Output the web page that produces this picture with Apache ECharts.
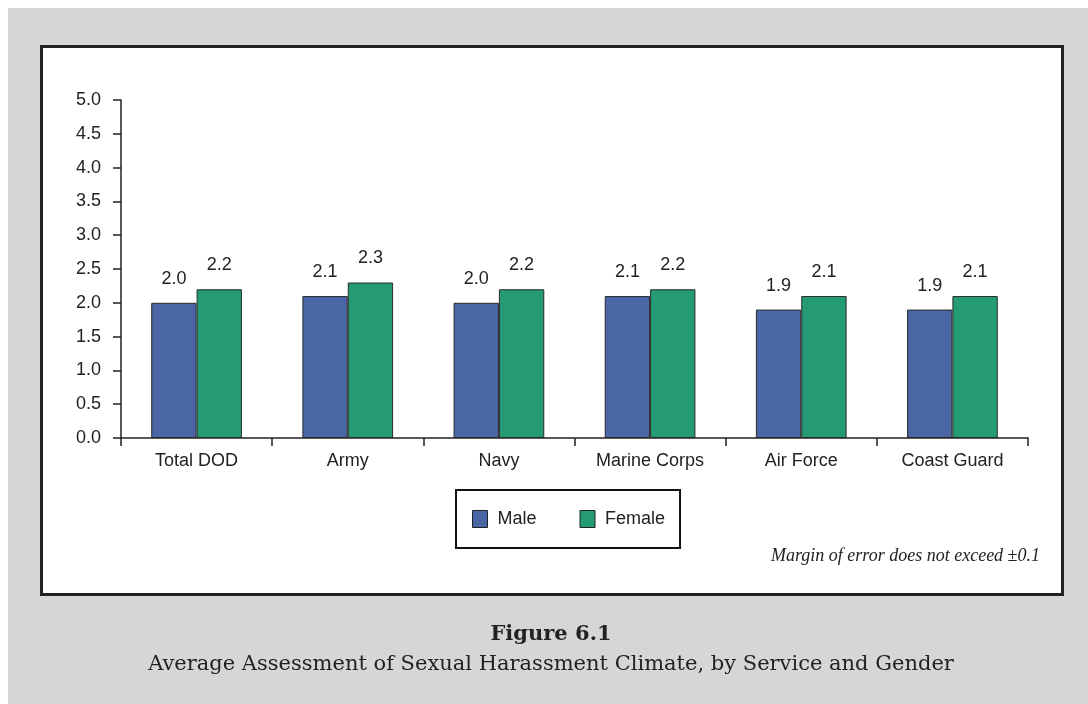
<!DOCTYPE html>
<html>
<head>
<meta charset="utf-8">
<script src="https://cdn.jsdelivr.net/npm/echarts@6/dist/echarts.min.js"></script>
<style>
html,body{margin:0;padding:0;background:#fff;}
#chart{width:1088px;height:704px;}
</style>
</head>
<body>
<div id="chart"></div>
<script>
const categories = ['Total DOD', 'Army', 'Navy', 'Marine Corps', 'Air Force', 'Coast Guard'];
const maleValues = [2.0, 2.1, 2.0, 2.1, 1.9, 1.9];
const femaleValues = [2.2, 2.3, 2.2, 2.2, 2.1, 2.1];
const seriesNames = ['Male', 'Female'];
const yTicks = { min: 0, max: 5, interval: 0.5 };
const noteText = 'Margin of error does not exceed \u00b10.1';
const figureTitle = 'Figure 6.1';
const figureSubtitle = 'Average Assessment of Sexual Harassment Climate, by Service and Gender';

const chart = echarts.init(document.getElementById('chart'), null, { renderer: 'canvas' });
const sans = 'Liberation Sans, Arial, sans-serif';
const labelStyle = { show: true, position: 'top', distance: 15, fontFamily: sans, fontSize: 18, color: '#222', formatter: p => p.value.toFixed(1) };

chart.setOption({
  backgroundColor: '#fff',
  animation: false,
  graphic: [
    { type: 'rect', z: -10, silent: true, shape: { x: 8, y: 8, width: 1080, height: 696 }, style: { fill: '#d5d6d8' } },
    { type: 'rect', z: -9, silent: true, shape: { x: 41.5, y: 46.5, width: 1021, height: 548 }, style: { fill: '#fff', stroke: '#222', lineWidth: 3 } },
    { type: 'text', silent: true, x: 1040, y: 556, style: { text: noteText, align: 'right', verticalAlign: 'middle', font: 'italic 18px "Liberation Serif", serif', fill: '#222' } },
    { type: 'text', silent: true, x: 551, y: 635, style: { text: figureTitle, align: 'center', verticalAlign: 'middle', font: 'bold 21px "DejaVu Serif", serif', fill: '#222' } },
    { type: 'text', silent: true, x: 551, y: 665, style: { text: figureSubtitle, align: 'center', verticalAlign: 'middle', font: '21px "DejaVu Serif", serif', fill: '#222' } }
  ],
  legend: {
    data: seriesNames,
    left: 456, top: 490,
    orient: 'horizontal',
    itemWidth: 15, itemHeight: 17, itemGap: 43,
    padding: [20, 15, 20, 16],
    borderColor: '#111', borderWidth: 2,
    backgroundColor: '#fff',
    textStyle: { fontFamily: sans, fontSize: 18, color: '#222', padding: [0, 0, 0, 5] },
    icon: 'rect',
    itemStyle: { borderColor: '#222', borderWidth: 1 }
  },
  grid: { left: 121, right: 60, top: 100, bottom: 266, containLabel: false },
  xAxis: {
    type: 'category',
    data: categories,
    axisLine: { lineStyle: { color: '#222', width: 1.5 } },
    axisTick: { show: true, length: 8, alignWithLabel: false, lineStyle: { color: '#222', width: 1.5 } },
    axisLabel: { fontFamily: sans, fontSize: 18, color: '#222', margin: 14 }
  },
  yAxis: {
    type: 'value',
    min: yTicks.min, max: yTicks.max, interval: yTicks.interval,
    splitLine: { show: false },
    axisLine: { show: true, lineStyle: { color: '#222', width: 1.5 } },
    axisTick: { show: true, length: 8, lineStyle: { color: '#222', width: 1.5 } },
    axisLabel: { fontFamily: sans, fontSize: 18, color: '#222', margin: 20, formatter: v => v.toFixed(1) }
  },
  series: [
    { name: seriesNames[0], type: 'bar', data: maleValues, barGap: '0%', barCategoryGap: '40%',
      itemStyle: { color: '#4a66a4', borderColor: '#2a2a2a', borderWidth: 1 }, label: labelStyle },
    { name: seriesNames[1], type: 'bar', data: femaleValues, barGap: '0%', barCategoryGap: '40%',
      itemStyle: { color: '#249b75', borderColor: '#2a2a2a', borderWidth: 1 }, label: labelStyle }
  ]
});
</script>
</body>
</html>
